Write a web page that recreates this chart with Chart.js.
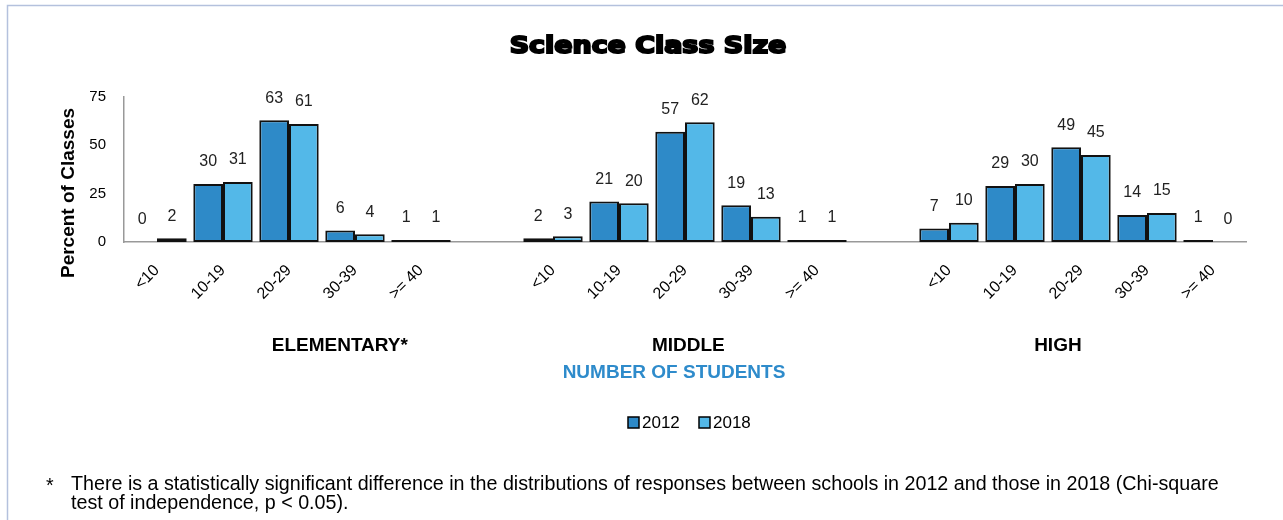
<!DOCTYPE html>
<html>
<head>
<meta charset="utf-8">
<script src="https://cdn.jsdelivr.net/npm/chart.js@4.4.1/dist/chart.umd.min.js"></script>
<style>
  html, body { margin: 0; padding: 0; background: #fff; }
  #wrap { width: 1283px; height: 520px; position: relative; }
</style>
</head>
<body>
<div id="wrap"><canvas id="grafico" width="1283" height="520"></canvas></div>
<script>
// dados
const niveis = ["ELEMENTARY*", "MIDDLE", "HIGH"];
const tamanhos = ["<10", "10-19", "20-29", "30-39", ">= 40"];
const anos = ["2012", "2018"];

const elem2012 = [0, 30, 63, 6, 1];
const elem2018 = [2, 31, 61, 4, 1];
const mid2012 = [2, 21, 57, 19, 1];
const mid2018 = [3, 20, 62, 13, 1];
const high2012 = [7, 29, 49, 14, 1];
const high2018 = [10, 30, 45, 15, 0];

const yTicks = [0, 25, 50, 75];

const cores = ["#2E8AC8", "#53B8E8"];
const fonte = "'Liberation Sans', Arial, sans-serif";

// junta os 3 grupos com uma categoria vazia entre eles
const labels = [...tamanhos, "", ...tamanhos, "", ...tamanhos];
const serie2012 = [...elem2012, null, ...mid2012, null, ...high2012];
const serie2018 = [...elem2018, null, ...mid2018, null, ...high2018];

const extras = {
  id: "extras",
  afterDraw(chart) {
    const ctx = chart.ctx;
    const x = chart.scales.x;
    ctx.save();

    // moldura
    ctx.strokeStyle = "#b4c1dd";
    ctx.lineWidth = 1.5;
    ctx.strokeRect(7.5, 5.5, 1400, 700);

    // titulo
    ctx.save();
    ctx.translate(648, 47);
    ctx.scale(1.17, 1);
    ctx.fillStyle = "#000";
    ctx.strokeStyle = "#000";
    ctx.lineWidth = 2;
    ctx.font = "bold 23px 'DejaVu Sans', sans-serif";
    ctx.textAlign = "center";
    ctx.textBaseline = "middle";
    ctx.fillText("Science Class Size", 0, 0);
    ctx.strokeText("Science Class Size", 0, 0);
    ctx.restore();

    ctx.textAlign = "center";
    ctx.textBaseline = "middle";

    // valores sobre as barras
    ctx.font = "16px " + fonte;
    ctx.fillStyle = "#222";
    chart.data.datasets.forEach((ds, i) => {
      chart.getDatasetMeta(i).data.forEach((bar, j) => {
        const v = ds.data[j];
        if (v === null) return;
        ctx.fillText(String(v), bar.x, bar.y - 22);
      });
    });

    // titulo do eixo y
    ctx.save();
    ctx.translate(69, 193);
    ctx.rotate(-Math.PI / 2);
    ctx.font = "bold 19px " + fonte;
    ctx.fillStyle = "#000";
    ctx.fillText("Percent of Classes", 0, 0);
    ctx.restore();

    // nomes dos niveis
    ctx.font = "bold 19px " + fonte;
    ctx.fillStyle = "#000";
    const posNiveis = [2.77, 8.05, 13.65];
    niveis.forEach((n, i) => {
      ctx.fillText(n, x.getPixelForValue(posNiveis[i]), 346);
    });

    ctx.fillStyle = "#2E8BCB";
    ctx.fillText("NUMBER OF STUDENTS", 674, 373);

    // legenda
    ctx.font = "17px " + fonte;
    ctx.textAlign = "left";
    const legX = [628, 699];
    anos.forEach((a, i) => {
      ctx.fillStyle = cores[i];
      ctx.fillRect(legX[i], 417, 11, 11);
      ctx.strokeStyle = "#000";
      ctx.lineWidth = 1.5;
      ctx.strokeRect(legX[i], 417, 11, 11);
      ctx.fillStyle = "#000";
      ctx.fillText(a, legX[i] + 14, 423);
    });

    // nota
    ctx.font = "19.7px " + fonte;
    ctx.fillStyle = "#000";
    ctx.fillText("*", 46, 487);
    ctx.fillText("There is a statistically significant difference in the distributions of responses between schools in 2012 and those in 2018 (Chi-square", 71, 485);
    ctx.fillText("test of independence, p < 0.05).", 71, 504);

    ctx.restore();
  }
};

new Chart(document.getElementById("grafico"), {
  type: "bar",
  data: {
    labels: labels,
    datasets: [
      {
        label: anos[0],
        data: serie2012,
        backgroundColor: cores[0],
        borderColor: "#111",
        borderWidth: 2,
        borderSkipped: false,
        categoryPercentage: 0.9,
        barPercentage: 1.0
      },
      {
        label: anos[1],
        data: serie2018,
        backgroundColor: cores[1],
        borderColor: "#111",
        borderWidth: 2,
        borderSkipped: false,
        categoryPercentage: 0.9,
        barPercentage: 1.0
      }
    ]
  },
  options: {
    responsive: false,
    animation: false,
    layout: { padding: { left: 0, top: 97, right: 37, bottom: 218 } },
    plugins: {
      legend: { display: false },
      title: { display: false },
      tooltip: { enabled: false }
    },
    scales: {
      x: {
        afterFit: s => { s.height = 60; },
        grid: { display: false },
        border: { display: true, color: "#999", width: 1.5 },
        ticks: {
          autoSkip: false,
          minRotation: 45,
          maxRotation: 45,
          padding: 11,
          color: "#000",
          font: { family: fonte, size: 16 }
        }
      },
      y: {
        min: 0,
        max: 75,
        afterFit: s => { s.width = 124; },
        afterBuildTicks: s => { s.ticks = yTicks.map(v => ({ value: v })); },
        grid: { display: false },
        border: { display: true, color: "#999", width: 1.5 },
        ticks: {
          padding: 10,
          color: "#000",
          font: { family: fonte, size: 15 }
        }
      }
    }
  },
  plugins: [extras]
});
</script>
</body>
</html>
